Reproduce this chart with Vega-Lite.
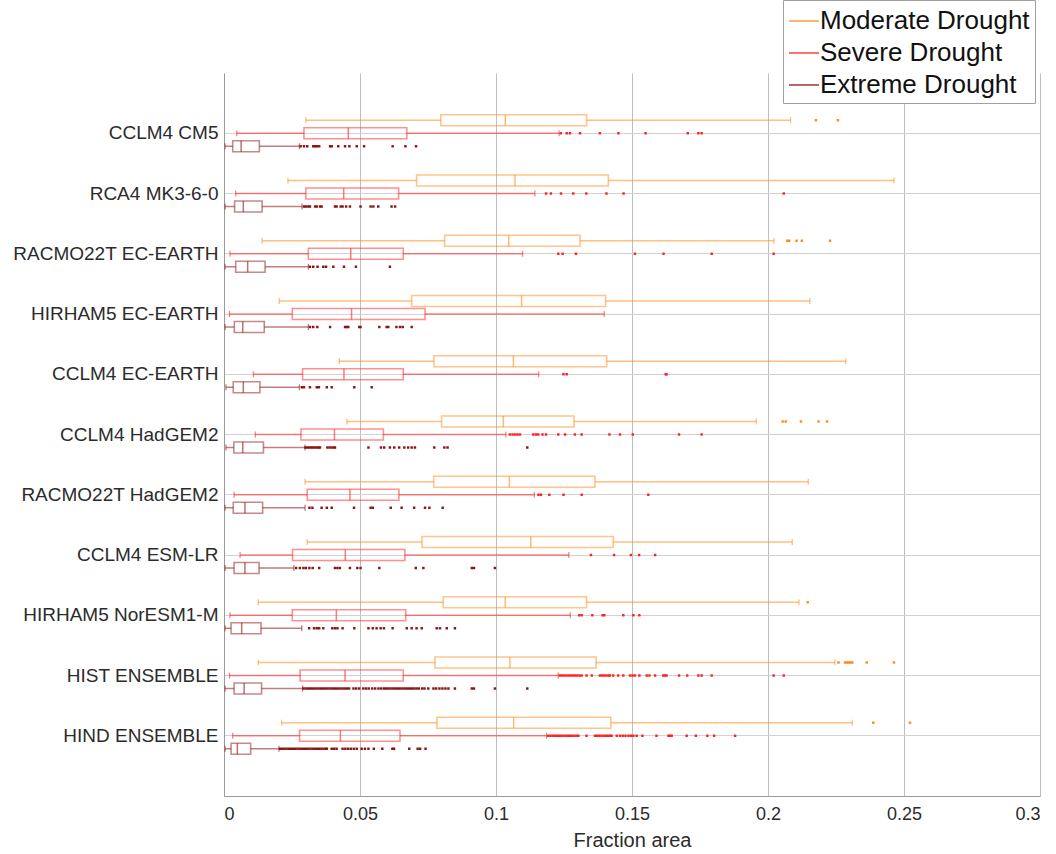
{
  "$schema": "https://vega.github.io/schema/vega-lite/v6.json",
  "autosize": "none",
  "width": 816,
  "height": 723,
  "padding": {"left": 224, "top": 73, "right": 16, "bottom": 58},
  "background": "white",
  "config": {
    "font": "Liberation Sans",
    "view": {"stroke": null},
    "legend": {
      "orient": "none",
      "legendX": 559,
      "legendY": -73,
      "title": null,
      "symbolType": "stroke",
      "symbolSize": 900,
      "symbolStrokeWidth": 1.5,
      "symbolOpacity": 0.85,
      "labelFontSize": 26,
      "labelLimit": 0,
      "labelColor": "#111111",
      "labelOffset": 0,
      "rowPadding": 3,
      "padding": 5,
      "strokeColor": "#A0A0A0",
      "fillColor": "white"
    }
  },
  "datasets": {
    "boxes": [
      {"model": "CCLM4 CM5", "drought": "Moderate Drought", "lo": 0.0301, "q1": 0.0797, "med": 0.1034, "q3": 0.1333, "hi": 0.2083},
      {"model": "CCLM4 CM5", "drought": "Severe Drought", "lo": 0.0047, "q1": 0.0294, "med": 0.0457, "q3": 0.0672, "hi": 0.1232},
      {"model": "CCLM4 CM5", "drought": "Extreme Drought", "lo": 0.0004, "q1": 0.0032, "med": 0.0063, "q3": 0.0130, "hi": 0.0277},
      {"model": "RCA4 MK3-6-0", "drought": "Moderate Drought", "lo": 0.0235, "q1": 0.0708, "med": 0.1070, "q3": 0.1413, "hi": 0.2463},
      {"model": "RCA4 MK3-6-0", "drought": "Severe Drought", "lo": 0.0043, "q1": 0.0301, "med": 0.0440, "q3": 0.0642, "hi": 0.1143},
      {"model": "RCA4 MK3-6-0", "drought": "Extreme Drought", "lo": 0.0004, "q1": 0.0039, "med": 0.0071, "q3": 0.0140, "hi": 0.0287},
      {"model": "RACMO22T EC-EARTH", "drought": "Moderate Drought", "lo": 0.0140, "q1": 0.0811, "med": 0.1047, "q3": 0.1309, "hi": 0.2022},
      {"model": "RACMO22T EC-EARTH", "drought": "Severe Drought", "lo": 0.0022, "q1": 0.0310, "med": 0.0466, "q3": 0.0659, "hi": 0.1098},
      {"model": "RACMO22T EC-EARTH", "drought": "Extreme Drought", "lo": 0.0004, "q1": 0.0043, "med": 0.0087, "q3": 0.0151, "hi": 0.0310},
      {"model": "HIRHAM5 EC-EARTH", "drought": "Moderate Drought", "lo": 0.0203, "q1": 0.0690, "med": 0.1094, "q3": 0.1403, "hi": 0.2154},
      {"model": "HIRHAM5 EC-EARTH", "drought": "Severe Drought", "lo": 0.0020, "q1": 0.0251, "med": 0.0469, "q3": 0.0739, "hi": 0.1398},
      {"model": "HIRHAM5 EC-EARTH", "drought": "Extreme Drought", "lo": 0.0004, "q1": 0.0038, "med": 0.0069, "q3": 0.0148, "hi": 0.0310},
      {"model": "CCLM4 EC-EARTH", "drought": "Moderate Drought", "lo": 0.0424, "q1": 0.0772, "med": 0.1064, "q3": 0.1407, "hi": 0.2286},
      {"model": "CCLM4 EC-EARTH", "drought": "Severe Drought", "lo": 0.0108, "q1": 0.0289, "med": 0.0441, "q3": 0.0659, "hi": 0.1157},
      {"model": "CCLM4 EC-EARTH", "drought": "Extreme Drought", "lo": 0.0007, "q1": 0.0034, "med": 0.0071, "q3": 0.0132, "hi": 0.0277},
      {"model": "CCLM4 HadGEM2", "drought": "Moderate Drought", "lo": 0.0452, "q1": 0.0800, "med": 0.1027, "q3": 0.1287, "hi": 0.1957},
      {"model": "CCLM4 HadGEM2", "drought": "Severe Drought", "lo": 0.0115, "q1": 0.0283, "med": 0.0406, "q3": 0.0586, "hi": 0.1036},
      {"model": "CCLM4 HadGEM2", "drought": "Extreme Drought", "lo": 0.0007, "q1": 0.0036, "med": 0.0069, "q3": 0.0145, "hi": 0.0298},
      {"model": "RACMO22T HadGEM2", "drought": "Moderate Drought", "lo": 0.0298, "q1": 0.0771, "med": 0.1049, "q3": 0.1364, "hi": 0.2148},
      {"model": "RACMO22T HadGEM2", "drought": "Severe Drought", "lo": 0.0037, "q1": 0.0306, "med": 0.0463, "q3": 0.0643, "hi": 0.1141},
      {"model": "RACMO22T HadGEM2", "drought": "Extreme Drought", "lo": 0.0004, "q1": 0.0034, "med": 0.0077, "q3": 0.0142, "hi": 0.0298},
      {"model": "CCLM4 ESM-LR", "drought": "Moderate Drought", "lo": 0.0306, "q1": 0.0728, "med": 0.1128, "q3": 0.1431, "hi": 0.2089},
      {"model": "CCLM4 ESM-LR", "drought": "Severe Drought", "lo": 0.0059, "q1": 0.0252, "med": 0.0446, "q3": 0.0665, "hi": 0.1268},
      {"model": "CCLM4 ESM-LR", "drought": "Extreme Drought", "lo": 0.0004, "q1": 0.0037, "med": 0.0077, "q3": 0.0129, "hi": 0.0257},
      {"model": "HIRHAM5 NorESM1-M", "drought": "Moderate Drought", "lo": 0.0126, "q1": 0.0806, "med": 0.1034, "q3": 0.1333, "hi": 0.2114},
      {"model": "HIRHAM5 NorESM1-M", "drought": "Severe Drought", "lo": 0.0022, "q1": 0.0251, "med": 0.0413, "q3": 0.0668, "hi": 0.1273},
      {"model": "HIRHAM5 NorESM1-M", "drought": "Extreme Drought", "lo": 0.0004, "q1": 0.0026, "med": 0.0065, "q3": 0.0136, "hi": 0.0286},
      {"model": "HIST ENSEMBLE", "drought": "Moderate Drought", "lo": 0.0126, "q1": 0.0776, "med": 0.1051, "q3": 0.1368, "hi": 0.2246},
      {"model": "HIST ENSEMBLE", "drought": "Severe Drought", "lo": 0.0020, "q1": 0.0280, "med": 0.0445, "q3": 0.0659, "hi": 0.1229},
      {"model": "HIST ENSEMBLE", "drought": "Extreme Drought", "lo": 0.0004, "q1": 0.0037, "med": 0.0074, "q3": 0.0138, "hi": 0.0289},
      {"model": "HIND ENSEMBLE", "drought": "Moderate Drought", "lo": 0.0212, "q1": 0.0783, "med": 0.1065, "q3": 0.1422, "hi": 0.2310},
      {"model": "HIND ENSEMBLE", "drought": "Severe Drought", "lo": 0.0032, "q1": 0.0278, "med": 0.0428, "q3": 0.0647, "hi": 0.1186},
      {"model": "HIND ENSEMBLE", "drought": "Extreme Drought", "lo": 0.0004, "q1": 0.0026, "med": 0.0049, "q3": 0.0098, "hi": 0.0202}
    ],
    "outliers": [
      {"model": "CCLM4 CM5", "drought": "Moderate Drought", "value": 0.2176},
      {"model": "CCLM4 CM5", "drought": "Moderate Drought", "value": 0.2257},
      {"model": "CCLM4 CM5", "drought": "Severe Drought", "value": 0.1238},
      {"model": "CCLM4 CM5", "drought": "Severe Drought", "value": 0.1260},
      {"model": "CCLM4 CM5", "drought": "Severe Drought", "value": 0.1272},
      {"model": "CCLM4 CM5", "drought": "Severe Drought", "value": 0.1309},
      {"model": "CCLM4 CM5", "drought": "Severe Drought", "value": 0.1382},
      {"model": "CCLM4 CM5", "drought": "Severe Drought", "value": 0.1450},
      {"model": "CCLM4 CM5", "drought": "Severe Drought", "value": 0.1550},
      {"model": "CCLM4 CM5", "drought": "Severe Drought", "value": 0.1705},
      {"model": "CCLM4 CM5", "drought": "Severe Drought", "value": 0.1744},
      {"model": "CCLM4 CM5", "drought": "Severe Drought", "value": 0.1756},
      {"model": "CCLM4 CM5", "drought": "Extreme Drought", "value": 0.0282},
      {"model": "CCLM4 CM5", "drought": "Extreme Drought", "value": 0.0294},
      {"model": "CCLM4 CM5", "drought": "Extreme Drought", "value": 0.0306},
      {"model": "CCLM4 CM5", "drought": "Extreme Drought", "value": 0.0328},
      {"model": "CCLM4 CM5", "drought": "Extreme Drought", "value": 0.0335},
      {"model": "CCLM4 CM5", "drought": "Extreme Drought", "value": 0.0341},
      {"model": "CCLM4 CM5", "drought": "Extreme Drought", "value": 0.0350},
      {"model": "CCLM4 CM5", "drought": "Extreme Drought", "value": 0.0390},
      {"model": "CCLM4 CM5", "drought": "Extreme Drought", "value": 0.0396},
      {"model": "CCLM4 CM5", "drought": "Extreme Drought", "value": 0.0420},
      {"model": "CCLM4 CM5", "drought": "Extreme Drought", "value": 0.0445},
      {"model": "CCLM4 CM5", "drought": "Extreme Drought", "value": 0.0461},
      {"model": "CCLM4 CM5", "drought": "Extreme Drought", "value": 0.0488},
      {"model": "CCLM4 CM5", "drought": "Extreme Drought", "value": 0.0515},
      {"model": "CCLM4 CM5", "drought": "Extreme Drought", "value": 0.0620},
      {"model": "CCLM4 CM5", "drought": "Extreme Drought", "value": 0.0667},
      {"model": "CCLM4 CM5", "drought": "Extreme Drought", "value": 0.0706},
      {"model": "RCA4 MK3-6-0", "drought": "Severe Drought", "value": 0.1184},
      {"model": "RCA4 MK3-6-0", "drought": "Severe Drought", "value": 0.1202},
      {"model": "RCA4 MK3-6-0", "drought": "Severe Drought", "value": 0.1239},
      {"model": "RCA4 MK3-6-0", "drought": "Severe Drought", "value": 0.1284},
      {"model": "RCA4 MK3-6-0", "drought": "Severe Drought", "value": 0.1332},
      {"model": "RCA4 MK3-6-0", "drought": "Severe Drought", "value": 0.1406},
      {"model": "RCA4 MK3-6-0", "drought": "Severe Drought", "value": 0.1469},
      {"model": "RCA4 MK3-6-0", "drought": "Severe Drought", "value": 0.2058},
      {"model": "RCA4 MK3-6-0", "drought": "Extreme Drought", "value": 0.0294},
      {"model": "RCA4 MK3-6-0", "drought": "Extreme Drought", "value": 0.0301},
      {"model": "RCA4 MK3-6-0", "drought": "Extreme Drought", "value": 0.0310},
      {"model": "RCA4 MK3-6-0", "drought": "Extreme Drought", "value": 0.0316},
      {"model": "RCA4 MK3-6-0", "drought": "Extreme Drought", "value": 0.0335},
      {"model": "RCA4 MK3-6-0", "drought": "Extreme Drought", "value": 0.0341},
      {"model": "RCA4 MK3-6-0", "drought": "Extreme Drought", "value": 0.0353},
      {"model": "RCA4 MK3-6-0", "drought": "Extreme Drought", "value": 0.0359},
      {"model": "RCA4 MK3-6-0", "drought": "Extreme Drought", "value": 0.0408},
      {"model": "RCA4 MK3-6-0", "drought": "Extreme Drought", "value": 0.0414},
      {"model": "RCA4 MK3-6-0", "drought": "Extreme Drought", "value": 0.0429},
      {"model": "RCA4 MK3-6-0", "drought": "Extreme Drought", "value": 0.0436},
      {"model": "RCA4 MK3-6-0", "drought": "Extreme Drought", "value": 0.0449},
      {"model": "RCA4 MK3-6-0", "drought": "Extreme Drought", "value": 0.0463},
      {"model": "RCA4 MK3-6-0", "drought": "Extreme Drought", "value": 0.0502},
      {"model": "RCA4 MK3-6-0", "drought": "Extreme Drought", "value": 0.0539},
      {"model": "RCA4 MK3-6-0", "drought": "Extreme Drought", "value": 0.0549},
      {"model": "RCA4 MK3-6-0", "drought": "Extreme Drought", "value": 0.0567},
      {"model": "RCA4 MK3-6-0", "drought": "Extreme Drought", "value": 0.0616},
      {"model": "RCA4 MK3-6-0", "drought": "Extreme Drought", "value": 0.0629},
      {"model": "RACMO22T EC-EARTH", "drought": "Moderate Drought", "value": 0.2071},
      {"model": "RACMO22T EC-EARTH", "drought": "Moderate Drought", "value": 0.2078},
      {"model": "RACMO22T EC-EARTH", "drought": "Moderate Drought", "value": 0.2105},
      {"model": "RACMO22T EC-EARTH", "drought": "Moderate Drought", "value": 0.2124},
      {"model": "RACMO22T EC-EARTH", "drought": "Moderate Drought", "value": 0.2228},
      {"model": "RACMO22T EC-EARTH", "drought": "Severe Drought", "value": 0.1229},
      {"model": "RACMO22T EC-EARTH", "drought": "Severe Drought", "value": 0.1245},
      {"model": "RACMO22T EC-EARTH", "drought": "Severe Drought", "value": 0.1294},
      {"model": "RACMO22T EC-EARTH", "drought": "Severe Drought", "value": 0.1511},
      {"model": "RACMO22T EC-EARTH", "drought": "Severe Drought", "value": 0.1616},
      {"model": "RACMO22T EC-EARTH", "drought": "Severe Drought", "value": 0.1793},
      {"model": "RACMO22T EC-EARTH", "drought": "Severe Drought", "value": 0.2021},
      {"model": "RACMO22T EC-EARTH", "drought": "Extreme Drought", "value": 0.0316},
      {"model": "RACMO22T EC-EARTH", "drought": "Extreme Drought", "value": 0.0328},
      {"model": "RACMO22T EC-EARTH", "drought": "Extreme Drought", "value": 0.0344},
      {"model": "RACMO22T EC-EARTH", "drought": "Extreme Drought", "value": 0.0365},
      {"model": "RACMO22T EC-EARTH", "drought": "Extreme Drought", "value": 0.0375},
      {"model": "RACMO22T EC-EARTH", "drought": "Extreme Drought", "value": 0.0402},
      {"model": "RACMO22T EC-EARTH", "drought": "Extreme Drought", "value": 0.0441},
      {"model": "RACMO22T EC-EARTH", "drought": "Extreme Drought", "value": 0.0485},
      {"model": "RACMO22T EC-EARTH", "drought": "Extreme Drought", "value": 0.0610},
      {"model": "HIRHAM5 EC-EARTH", "drought": "Extreme Drought", "value": 0.0316},
      {"model": "HIRHAM5 EC-EARTH", "drought": "Extreme Drought", "value": 0.0328},
      {"model": "HIRHAM5 EC-EARTH", "drought": "Extreme Drought", "value": 0.0343},
      {"model": "HIRHAM5 EC-EARTH", "drought": "Extreme Drought", "value": 0.0390},
      {"model": "HIRHAM5 EC-EARTH", "drought": "Extreme Drought", "value": 0.0445},
      {"model": "HIRHAM5 EC-EARTH", "drought": "Extreme Drought", "value": 0.0451},
      {"model": "HIRHAM5 EC-EARTH", "drought": "Extreme Drought", "value": 0.0457},
      {"model": "HIRHAM5 EC-EARTH", "drought": "Extreme Drought", "value": 0.0497},
      {"model": "HIRHAM5 EC-EARTH", "drought": "Extreme Drought", "value": 0.0502},
      {"model": "HIRHAM5 EC-EARTH", "drought": "Extreme Drought", "value": 0.0571},
      {"model": "HIRHAM5 EC-EARTH", "drought": "Extreme Drought", "value": 0.0598},
      {"model": "HIRHAM5 EC-EARTH", "drought": "Extreme Drought", "value": 0.0604},
      {"model": "HIRHAM5 EC-EARTH", "drought": "Extreme Drought", "value": 0.0634},
      {"model": "HIRHAM5 EC-EARTH", "drought": "Extreme Drought", "value": 0.0647},
      {"model": "HIRHAM5 EC-EARTH", "drought": "Extreme Drought", "value": 0.0657},
      {"model": "HIRHAM5 EC-EARTH", "drought": "Extreme Drought", "value": 0.0690},
      {"model": "CCLM4 EC-EARTH", "drought": "Severe Drought", "value": 0.1248},
      {"model": "CCLM4 EC-EARTH", "drought": "Severe Drought", "value": 0.1260},
      {"model": "CCLM4 EC-EARTH", "drought": "Severe Drought", "value": 0.1624},
      {"model": "CCLM4 EC-EARTH", "drought": "Severe Drought", "value": 0.1627},
      {"model": "CCLM4 EC-EARTH", "drought": "Extreme Drought", "value": 0.0286},
      {"model": "CCLM4 EC-EARTH", "drought": "Extreme Drought", "value": 0.0294},
      {"model": "CCLM4 EC-EARTH", "drought": "Extreme Drought", "value": 0.0316},
      {"model": "CCLM4 EC-EARTH", "drought": "Extreme Drought", "value": 0.0341},
      {"model": "CCLM4 EC-EARTH", "drought": "Extreme Drought", "value": 0.0349},
      {"model": "CCLM4 EC-EARTH", "drought": "Extreme Drought", "value": 0.0378},
      {"model": "CCLM4 EC-EARTH", "drought": "Extreme Drought", "value": 0.0396},
      {"model": "CCLM4 EC-EARTH", "drought": "Extreme Drought", "value": 0.0479},
      {"model": "CCLM4 EC-EARTH", "drought": "Extreme Drought", "value": 0.0543},
      {"model": "CCLM4 HadGEM2", "drought": "Moderate Drought", "value": 0.2054},
      {"model": "CCLM4 HadGEM2", "drought": "Moderate Drought", "value": 0.2065},
      {"model": "CCLM4 HadGEM2", "drought": "Moderate Drought", "value": 0.2121},
      {"model": "CCLM4 HadGEM2", "drought": "Moderate Drought", "value": 0.2186},
      {"model": "CCLM4 HadGEM2", "drought": "Moderate Drought", "value": 0.2217},
      {"model": "CCLM4 HadGEM2", "drought": "Severe Drought", "value": 0.1051},
      {"model": "CCLM4 HadGEM2", "drought": "Severe Drought", "value": 0.1061},
      {"model": "CCLM4 HadGEM2", "drought": "Severe Drought", "value": 0.1070},
      {"model": "CCLM4 HadGEM2", "drought": "Severe Drought", "value": 0.1079},
      {"model": "CCLM4 HadGEM2", "drought": "Severe Drought", "value": 0.1088},
      {"model": "CCLM4 HadGEM2", "drought": "Severe Drought", "value": 0.1137},
      {"model": "CCLM4 HadGEM2", "drought": "Severe Drought", "value": 0.1147},
      {"model": "CCLM4 HadGEM2", "drought": "Severe Drought", "value": 0.1155},
      {"model": "CCLM4 HadGEM2", "drought": "Severe Drought", "value": 0.1171},
      {"model": "CCLM4 HadGEM2", "drought": "Severe Drought", "value": 0.1184},
      {"model": "CCLM4 HadGEM2", "drought": "Severe Drought", "value": 0.1229},
      {"model": "CCLM4 HadGEM2", "drought": "Severe Drought", "value": 0.1254},
      {"model": "CCLM4 HadGEM2", "drought": "Severe Drought", "value": 0.1290},
      {"model": "CCLM4 HadGEM2", "drought": "Severe Drought", "value": 0.1315},
      {"model": "CCLM4 HadGEM2", "drought": "Severe Drought", "value": 0.1417},
      {"model": "CCLM4 HadGEM2", "drought": "Severe Drought", "value": 0.1456},
      {"model": "CCLM4 HadGEM2", "drought": "Severe Drought", "value": 0.1503},
      {"model": "CCLM4 HadGEM2", "drought": "Severe Drought", "value": 0.1673},
      {"model": "CCLM4 HadGEM2", "drought": "Severe Drought", "value": 0.1756},
      {"model": "CCLM4 HadGEM2", "drought": "Extreme Drought", "value": 0.0299},
      {"model": "CCLM4 HadGEM2", "drought": "Extreme Drought", "value": 0.0306},
      {"model": "CCLM4 HadGEM2", "drought": "Extreme Drought", "value": 0.0313},
      {"model": "CCLM4 HadGEM2", "drought": "Extreme Drought", "value": 0.0320},
      {"model": "CCLM4 HadGEM2", "drought": "Extreme Drought", "value": 0.0327},
      {"model": "CCLM4 HadGEM2", "drought": "Extreme Drought", "value": 0.0334},
      {"model": "CCLM4 HadGEM2", "drought": "Extreme Drought", "value": 0.0341},
      {"model": "CCLM4 HadGEM2", "drought": "Extreme Drought", "value": 0.0348},
      {"model": "CCLM4 HadGEM2", "drought": "Extreme Drought", "value": 0.0353},
      {"model": "CCLM4 HadGEM2", "drought": "Extreme Drought", "value": 0.0380},
      {"model": "CCLM4 HadGEM2", "drought": "Extreme Drought", "value": 0.0388},
      {"model": "CCLM4 HadGEM2", "drought": "Extreme Drought", "value": 0.0396},
      {"model": "CCLM4 HadGEM2", "drought": "Extreme Drought", "value": 0.0404},
      {"model": "CCLM4 HadGEM2", "drought": "Extreme Drought", "value": 0.0408},
      {"model": "CCLM4 HadGEM2", "drought": "Extreme Drought", "value": 0.0531},
      {"model": "CCLM4 HadGEM2", "drought": "Extreme Drought", "value": 0.0577},
      {"model": "CCLM4 HadGEM2", "drought": "Extreme Drought", "value": 0.0589},
      {"model": "CCLM4 HadGEM2", "drought": "Extreme Drought", "value": 0.0610},
      {"model": "CCLM4 HadGEM2", "drought": "Extreme Drought", "value": 0.0626},
      {"model": "CCLM4 HadGEM2", "drought": "Extreme Drought", "value": 0.0644},
      {"model": "CCLM4 HadGEM2", "drought": "Extreme Drought", "value": 0.0663},
      {"model": "CCLM4 HadGEM2", "drought": "Extreme Drought", "value": 0.0677},
      {"model": "CCLM4 HadGEM2", "drought": "Extreme Drought", "value": 0.0690},
      {"model": "CCLM4 HadGEM2", "drought": "Extreme Drought", "value": 0.0702},
      {"model": "CCLM4 HadGEM2", "drought": "Extreme Drought", "value": 0.0773},
      {"model": "CCLM4 HadGEM2", "drought": "Extreme Drought", "value": 0.0810},
      {"model": "CCLM4 HadGEM2", "drought": "Extreme Drought", "value": 0.0822},
      {"model": "CCLM4 HadGEM2", "drought": "Extreme Drought", "value": 0.1115},
      {"model": "RACMO22T HadGEM2", "drought": "Severe Drought", "value": 0.1156},
      {"model": "RACMO22T HadGEM2", "drought": "Severe Drought", "value": 0.1165},
      {"model": "RACMO22T HadGEM2", "drought": "Severe Drought", "value": 0.1196},
      {"model": "RACMO22T HadGEM2", "drought": "Severe Drought", "value": 0.1248},
      {"model": "RACMO22T HadGEM2", "drought": "Severe Drought", "value": 0.1315},
      {"model": "RACMO22T HadGEM2", "drought": "Severe Drought", "value": 0.1560},
      {"model": "RACMO22T HadGEM2", "drought": "Extreme Drought", "value": 0.0314},
      {"model": "RACMO22T HadGEM2", "drought": "Extreme Drought", "value": 0.0325},
      {"model": "RACMO22T HadGEM2", "drought": "Extreme Drought", "value": 0.0359},
      {"model": "RACMO22T HadGEM2", "drought": "Extreme Drought", "value": 0.0378},
      {"model": "RACMO22T HadGEM2", "drought": "Extreme Drought", "value": 0.0396},
      {"model": "RACMO22T HadGEM2", "drought": "Extreme Drought", "value": 0.0478},
      {"model": "RACMO22T HadGEM2", "drought": "Extreme Drought", "value": 0.0539},
      {"model": "RACMO22T HadGEM2", "drought": "Extreme Drought", "value": 0.0547},
      {"model": "RACMO22T HadGEM2", "drought": "Extreme Drought", "value": 0.0613},
      {"model": "RACMO22T HadGEM2", "drought": "Extreme Drought", "value": 0.0653},
      {"model": "RACMO22T HadGEM2", "drought": "Extreme Drought", "value": 0.0699},
      {"model": "RACMO22T HadGEM2", "drought": "Extreme Drought", "value": 0.0739},
      {"model": "RACMO22T HadGEM2", "drought": "Extreme Drought", "value": 0.0755},
      {"model": "RACMO22T HadGEM2", "drought": "Extreme Drought", "value": 0.0804},
      {"model": "CCLM4 ESM-LR", "drought": "Severe Drought", "value": 0.1349},
      {"model": "CCLM4 ESM-LR", "drought": "Severe Drought", "value": 0.1434},
      {"model": "CCLM4 ESM-LR", "drought": "Severe Drought", "value": 0.1496},
      {"model": "CCLM4 ESM-LR", "drought": "Severe Drought", "value": 0.1526},
      {"model": "CCLM4 ESM-LR", "drought": "Severe Drought", "value": 0.1585},
      {"model": "CCLM4 ESM-LR", "drought": "Extreme Drought", "value": 0.0265},
      {"model": "CCLM4 ESM-LR", "drought": "Extreme Drought", "value": 0.0279},
      {"model": "CCLM4 ESM-LR", "drought": "Extreme Drought", "value": 0.0292},
      {"model": "CCLM4 ESM-LR", "drought": "Extreme Drought", "value": 0.0301},
      {"model": "CCLM4 ESM-LR", "drought": "Extreme Drought", "value": 0.0314},
      {"model": "CCLM4 ESM-LR", "drought": "Extreme Drought", "value": 0.0326},
      {"model": "CCLM4 ESM-LR", "drought": "Extreme Drought", "value": 0.0350},
      {"model": "CCLM4 ESM-LR", "drought": "Extreme Drought", "value": 0.0408},
      {"model": "CCLM4 ESM-LR", "drought": "Extreme Drought", "value": 0.0417},
      {"model": "CCLM4 ESM-LR", "drought": "Extreme Drought", "value": 0.0426},
      {"model": "CCLM4 ESM-LR", "drought": "Extreme Drought", "value": 0.0463},
      {"model": "CCLM4 ESM-LR", "drought": "Extreme Drought", "value": 0.0490},
      {"model": "CCLM4 ESM-LR", "drought": "Extreme Drought", "value": 0.0502},
      {"model": "CCLM4 ESM-LR", "drought": "Extreme Drought", "value": 0.0571},
      {"model": "CCLM4 ESM-LR", "drought": "Extreme Drought", "value": 0.0705},
      {"model": "CCLM4 ESM-LR", "drought": "Extreme Drought", "value": 0.0733},
      {"model": "CCLM4 ESM-LR", "drought": "Extreme Drought", "value": 0.0911},
      {"model": "CCLM4 ESM-LR", "drought": "Extreme Drought", "value": 0.0919},
      {"model": "CCLM4 ESM-LR", "drought": "Extreme Drought", "value": 0.0996},
      {"model": "HIRHAM5 NorESM1-M", "drought": "Moderate Drought", "value": 0.2146},
      {"model": "HIRHAM5 NorESM1-M", "drought": "Severe Drought", "value": 0.1306},
      {"model": "HIRHAM5 NorESM1-M", "drought": "Severe Drought", "value": 0.1315},
      {"model": "HIRHAM5 NorESM1-M", "drought": "Severe Drought", "value": 0.1354},
      {"model": "HIRHAM5 NorESM1-M", "drought": "Severe Drought", "value": 0.1392},
      {"model": "HIRHAM5 NorESM1-M", "drought": "Severe Drought", "value": 0.1398},
      {"model": "HIRHAM5 NorESM1-M", "drought": "Severe Drought", "value": 0.1468},
      {"model": "HIRHAM5 NorESM1-M", "drought": "Severe Drought", "value": 0.1505},
      {"model": "HIRHAM5 NorESM1-M", "drought": "Severe Drought", "value": 0.1527},
      {"model": "HIRHAM5 NorESM1-M", "drought": "Extreme Drought", "value": 0.0313},
      {"model": "HIRHAM5 NorESM1-M", "drought": "Extreme Drought", "value": 0.0331},
      {"model": "HIRHAM5 NorESM1-M", "drought": "Extreme Drought", "value": 0.0341},
      {"model": "HIRHAM5 NorESM1-M", "drought": "Extreme Drought", "value": 0.0350},
      {"model": "HIRHAM5 NorESM1-M", "drought": "Extreme Drought", "value": 0.0365},
      {"model": "HIRHAM5 NorESM1-M", "drought": "Extreme Drought", "value": 0.0398},
      {"model": "HIRHAM5 NorESM1-M", "drought": "Extreme Drought", "value": 0.0408},
      {"model": "HIRHAM5 NorESM1-M", "drought": "Extreme Drought", "value": 0.0417},
      {"model": "HIRHAM5 NorESM1-M", "drought": "Extreme Drought", "value": 0.0436},
      {"model": "HIRHAM5 NorESM1-M", "drought": "Extreme Drought", "value": 0.0479},
      {"model": "HIRHAM5 NorESM1-M", "drought": "Extreme Drought", "value": 0.0531},
      {"model": "HIRHAM5 NorESM1-M", "drought": "Extreme Drought", "value": 0.0547},
      {"model": "HIRHAM5 NorESM1-M", "drought": "Extreme Drought", "value": 0.0561},
      {"model": "HIRHAM5 NorESM1-M", "drought": "Extreme Drought", "value": 0.0576},
      {"model": "HIRHAM5 NorESM1-M", "drought": "Extreme Drought", "value": 0.0588},
      {"model": "HIRHAM5 NorESM1-M", "drought": "Extreme Drought", "value": 0.0620},
      {"model": "HIRHAM5 NorESM1-M", "drought": "Extreme Drought", "value": 0.0672},
      {"model": "HIRHAM5 NorESM1-M", "drought": "Extreme Drought", "value": 0.0690},
      {"model": "HIRHAM5 NorESM1-M", "drought": "Extreme Drought", "value": 0.0708},
      {"model": "HIRHAM5 NorESM1-M", "drought": "Extreme Drought", "value": 0.0727},
      {"model": "HIRHAM5 NorESM1-M", "drought": "Extreme Drought", "value": 0.0782},
      {"model": "HIRHAM5 NorESM1-M", "drought": "Extreme Drought", "value": 0.0794},
      {"model": "HIRHAM5 NorESM1-M", "drought": "Extreme Drought", "value": 0.0819},
      {"model": "HIRHAM5 NorESM1-M", "drought": "Extreme Drought", "value": 0.0849},
      {"model": "HIST ENSEMBLE", "drought": "Moderate Drought", "value": 0.2259},
      {"model": "HIST ENSEMBLE", "drought": "Moderate Drought", "value": 0.2283},
      {"model": "HIST ENSEMBLE", "drought": "Moderate Drought", "value": 0.2290},
      {"model": "HIST ENSEMBLE", "drought": "Moderate Drought", "value": 0.2297},
      {"model": "HIST ENSEMBLE", "drought": "Moderate Drought", "value": 0.2304},
      {"model": "HIST ENSEMBLE", "drought": "Moderate Drought", "value": 0.2310},
      {"model": "HIST ENSEMBLE", "drought": "Moderate Drought", "value": 0.2363},
      {"model": "HIST ENSEMBLE", "drought": "Moderate Drought", "value": 0.2463},
      {"model": "HIST ENSEMBLE", "drought": "Severe Drought", "value": 0.1235},
      {"model": "HIST ENSEMBLE", "drought": "Severe Drought", "value": 0.1243},
      {"model": "HIST ENSEMBLE", "drought": "Severe Drought", "value": 0.1251},
      {"model": "HIST ENSEMBLE", "drought": "Severe Drought", "value": 0.1259},
      {"model": "HIST ENSEMBLE", "drought": "Severe Drought", "value": 0.1267},
      {"model": "HIST ENSEMBLE", "drought": "Severe Drought", "value": 0.1275},
      {"model": "HIST ENSEMBLE", "drought": "Severe Drought", "value": 0.1283},
      {"model": "HIST ENSEMBLE", "drought": "Severe Drought", "value": 0.1291},
      {"model": "HIST ENSEMBLE", "drought": "Severe Drought", "value": 0.1299},
      {"model": "HIST ENSEMBLE", "drought": "Severe Drought", "value": 0.1307},
      {"model": "HIST ENSEMBLE", "drought": "Severe Drought", "value": 0.1315},
      {"model": "HIST ENSEMBLE", "drought": "Severe Drought", "value": 0.1333},
      {"model": "HIST ENSEMBLE", "drought": "Severe Drought", "value": 0.1352},
      {"model": "HIST ENSEMBLE", "drought": "Severe Drought", "value": 0.1382},
      {"model": "HIST ENSEMBLE", "drought": "Severe Drought", "value": 0.1390},
      {"model": "HIST ENSEMBLE", "drought": "Severe Drought", "value": 0.1398},
      {"model": "HIST ENSEMBLE", "drought": "Severe Drought", "value": 0.1406},
      {"model": "HIST ENSEMBLE", "drought": "Severe Drought", "value": 0.1414},
      {"model": "HIST ENSEMBLE", "drought": "Severe Drought", "value": 0.1419},
      {"model": "HIST ENSEMBLE", "drought": "Severe Drought", "value": 0.1431},
      {"model": "HIST ENSEMBLE", "drought": "Severe Drought", "value": 0.1449},
      {"model": "HIST ENSEMBLE", "drought": "Severe Drought", "value": 0.1468},
      {"model": "HIST ENSEMBLE", "drought": "Severe Drought", "value": 0.1493},
      {"model": "HIST ENSEMBLE", "drought": "Severe Drought", "value": 0.1502},
      {"model": "HIST ENSEMBLE", "drought": "Severe Drought", "value": 0.1511},
      {"model": "HIST ENSEMBLE", "drought": "Severe Drought", "value": 0.1527},
      {"model": "HIST ENSEMBLE", "drought": "Severe Drought", "value": 0.1554},
      {"model": "HIST ENSEMBLE", "drought": "Severe Drought", "value": 0.1564},
      {"model": "HIST ENSEMBLE", "drought": "Severe Drought", "value": 0.1585},
      {"model": "HIST ENSEMBLE", "drought": "Severe Drought", "value": 0.1615},
      {"model": "HIST ENSEMBLE", "drought": "Severe Drought", "value": 0.1621},
      {"model": "HIST ENSEMBLE", "drought": "Severe Drought", "value": 0.1627},
      {"model": "HIST ENSEMBLE", "drought": "Severe Drought", "value": 0.1673},
      {"model": "HIST ENSEMBLE", "drought": "Severe Drought", "value": 0.1703},
      {"model": "HIST ENSEMBLE", "drought": "Severe Drought", "value": 0.1744},
      {"model": "HIST ENSEMBLE", "drought": "Severe Drought", "value": 0.1756},
      {"model": "HIST ENSEMBLE", "drought": "Severe Drought", "value": 0.1793},
      {"model": "HIST ENSEMBLE", "drought": "Severe Drought", "value": 0.2021},
      {"model": "HIST ENSEMBLE", "drought": "Severe Drought", "value": 0.2058},
      {"model": "HIST ENSEMBLE", "drought": "Extreme Drought", "value": 0.0292},
      {"model": "HIST ENSEMBLE", "drought": "Extreme Drought", "value": 0.0300},
      {"model": "HIST ENSEMBLE", "drought": "Extreme Drought", "value": 0.0308},
      {"model": "HIST ENSEMBLE", "drought": "Extreme Drought", "value": 0.0316},
      {"model": "HIST ENSEMBLE", "drought": "Extreme Drought", "value": 0.0324},
      {"model": "HIST ENSEMBLE", "drought": "Extreme Drought", "value": 0.0332},
      {"model": "HIST ENSEMBLE", "drought": "Extreme Drought", "value": 0.0340},
      {"model": "HIST ENSEMBLE", "drought": "Extreme Drought", "value": 0.0348},
      {"model": "HIST ENSEMBLE", "drought": "Extreme Drought", "value": 0.0356},
      {"model": "HIST ENSEMBLE", "drought": "Extreme Drought", "value": 0.0364},
      {"model": "HIST ENSEMBLE", "drought": "Extreme Drought", "value": 0.0372},
      {"model": "HIST ENSEMBLE", "drought": "Extreme Drought", "value": 0.0380},
      {"model": "HIST ENSEMBLE", "drought": "Extreme Drought", "value": 0.0388},
      {"model": "HIST ENSEMBLE", "drought": "Extreme Drought", "value": 0.0396},
      {"model": "HIST ENSEMBLE", "drought": "Extreme Drought", "value": 0.0404},
      {"model": "HIST ENSEMBLE", "drought": "Extreme Drought", "value": 0.0412},
      {"model": "HIST ENSEMBLE", "drought": "Extreme Drought", "value": 0.0420},
      {"model": "HIST ENSEMBLE", "drought": "Extreme Drought", "value": 0.0428},
      {"model": "HIST ENSEMBLE", "drought": "Extreme Drought", "value": 0.0436},
      {"model": "HIST ENSEMBLE", "drought": "Extreme Drought", "value": 0.0444},
      {"model": "HIST ENSEMBLE", "drought": "Extreme Drought", "value": 0.0452},
      {"model": "HIST ENSEMBLE", "drought": "Extreme Drought", "value": 0.0460},
      {"model": "HIST ENSEMBLE", "drought": "Extreme Drought", "value": 0.0476},
      {"model": "HIST ENSEMBLE", "drought": "Extreme Drought", "value": 0.0486},
      {"model": "HIST ENSEMBLE", "drought": "Extreme Drought", "value": 0.0497},
      {"model": "HIST ENSEMBLE", "drought": "Extreme Drought", "value": 0.0512},
      {"model": "HIST ENSEMBLE", "drought": "Extreme Drought", "value": 0.0522},
      {"model": "HIST ENSEMBLE", "drought": "Extreme Drought", "value": 0.0532},
      {"model": "HIST ENSEMBLE", "drought": "Extreme Drought", "value": 0.0545},
      {"model": "HIST ENSEMBLE", "drought": "Extreme Drought", "value": 0.0556},
      {"model": "HIST ENSEMBLE", "drought": "Extreme Drought", "value": 0.0568},
      {"model": "HIST ENSEMBLE", "drought": "Extreme Drought", "value": 0.0578},
      {"model": "HIST ENSEMBLE", "drought": "Extreme Drought", "value": 0.0588},
      {"model": "HIST ENSEMBLE", "drought": "Extreme Drought", "value": 0.0596},
      {"model": "HIST ENSEMBLE", "drought": "Extreme Drought", "value": 0.0604},
      {"model": "HIST ENSEMBLE", "drought": "Extreme Drought", "value": 0.0612},
      {"model": "HIST ENSEMBLE", "drought": "Extreme Drought", "value": 0.0620},
      {"model": "HIST ENSEMBLE", "drought": "Extreme Drought", "value": 0.0628},
      {"model": "HIST ENSEMBLE", "drought": "Extreme Drought", "value": 0.0636},
      {"model": "HIST ENSEMBLE", "drought": "Extreme Drought", "value": 0.0644},
      {"model": "HIST ENSEMBLE", "drought": "Extreme Drought", "value": 0.0652},
      {"model": "HIST ENSEMBLE", "drought": "Extreme Drought", "value": 0.0660},
      {"model": "HIST ENSEMBLE", "drought": "Extreme Drought", "value": 0.0668},
      {"model": "HIST ENSEMBLE", "drought": "Extreme Drought", "value": 0.0676},
      {"model": "HIST ENSEMBLE", "drought": "Extreme Drought", "value": 0.0684},
      {"model": "HIST ENSEMBLE", "drought": "Extreme Drought", "value": 0.0692},
      {"model": "HIST ENSEMBLE", "drought": "Extreme Drought", "value": 0.0700},
      {"model": "HIST ENSEMBLE", "drought": "Extreme Drought", "value": 0.0708},
      {"model": "HIST ENSEMBLE", "drought": "Extreme Drought", "value": 0.0716},
      {"model": "HIST ENSEMBLE", "drought": "Extreme Drought", "value": 0.0728},
      {"model": "HIST ENSEMBLE", "drought": "Extreme Drought", "value": 0.0737},
      {"model": "HIST ENSEMBLE", "drought": "Extreme Drought", "value": 0.0751},
      {"model": "HIST ENSEMBLE", "drought": "Extreme Drought", "value": 0.0770},
      {"model": "HIST ENSEMBLE", "drought": "Extreme Drought", "value": 0.0780},
      {"model": "HIST ENSEMBLE", "drought": "Extreme Drought", "value": 0.0792},
      {"model": "HIST ENSEMBLE", "drought": "Extreme Drought", "value": 0.0803},
      {"model": "HIST ENSEMBLE", "drought": "Extreme Drought", "value": 0.0814},
      {"model": "HIST ENSEMBLE", "drought": "Extreme Drought", "value": 0.0825},
      {"model": "HIST ENSEMBLE", "drought": "Extreme Drought", "value": 0.0849},
      {"model": "HIST ENSEMBLE", "drought": "Extreme Drought", "value": 0.0911},
      {"model": "HIST ENSEMBLE", "drought": "Extreme Drought", "value": 0.0919},
      {"model": "HIST ENSEMBLE", "drought": "Extreme Drought", "value": 0.0996},
      {"model": "HIST ENSEMBLE", "drought": "Extreme Drought", "value": 0.1115},
      {"model": "HIND ENSEMBLE", "drought": "Moderate Drought", "value": 0.2387},
      {"model": "HIND ENSEMBLE", "drought": "Moderate Drought", "value": 0.2522},
      {"model": "HIND ENSEMBLE", "drought": "Severe Drought", "value": 0.1192},
      {"model": "HIND ENSEMBLE", "drought": "Severe Drought", "value": 0.1200},
      {"model": "HIND ENSEMBLE", "drought": "Severe Drought", "value": 0.1208},
      {"model": "HIND ENSEMBLE", "drought": "Severe Drought", "value": 0.1216},
      {"model": "HIND ENSEMBLE", "drought": "Severe Drought", "value": 0.1224},
      {"model": "HIND ENSEMBLE", "drought": "Severe Drought", "value": 0.1232},
      {"model": "HIND ENSEMBLE", "drought": "Severe Drought", "value": 0.1240},
      {"model": "HIND ENSEMBLE", "drought": "Severe Drought", "value": 0.1248},
      {"model": "HIND ENSEMBLE", "drought": "Severe Drought", "value": 0.1256},
      {"model": "HIND ENSEMBLE", "drought": "Severe Drought", "value": 0.1264},
      {"model": "HIND ENSEMBLE", "drought": "Severe Drought", "value": 0.1272},
      {"model": "HIND ENSEMBLE", "drought": "Severe Drought", "value": 0.1280},
      {"model": "HIND ENSEMBLE", "drought": "Severe Drought", "value": 0.1288},
      {"model": "HIND ENSEMBLE", "drought": "Severe Drought", "value": 0.1296},
      {"model": "HIND ENSEMBLE", "drought": "Severe Drought", "value": 0.1303},
      {"model": "HIND ENSEMBLE", "drought": "Severe Drought", "value": 0.1333},
      {"model": "HIND ENSEMBLE", "drought": "Severe Drought", "value": 0.1364},
      {"model": "HIND ENSEMBLE", "drought": "Severe Drought", "value": 0.1372},
      {"model": "HIND ENSEMBLE", "drought": "Severe Drought", "value": 0.1380},
      {"model": "HIND ENSEMBLE", "drought": "Severe Drought", "value": 0.1388},
      {"model": "HIND ENSEMBLE", "drought": "Severe Drought", "value": 0.1396},
      {"model": "HIND ENSEMBLE", "drought": "Severe Drought", "value": 0.1404},
      {"model": "HIND ENSEMBLE", "drought": "Severe Drought", "value": 0.1412},
      {"model": "HIND ENSEMBLE", "drought": "Severe Drought", "value": 0.1420},
      {"model": "HIND ENSEMBLE", "drought": "Severe Drought", "value": 0.1425},
      {"model": "HIND ENSEMBLE", "drought": "Severe Drought", "value": 0.1444},
      {"model": "HIND ENSEMBLE", "drought": "Severe Drought", "value": 0.1456},
      {"model": "HIND ENSEMBLE", "drought": "Severe Drought", "value": 0.1466},
      {"model": "HIND ENSEMBLE", "drought": "Severe Drought", "value": 0.1476},
      {"model": "HIND ENSEMBLE", "drought": "Severe Drought", "value": 0.1487},
      {"model": "HIND ENSEMBLE", "drought": "Severe Drought", "value": 0.1496},
      {"model": "HIND ENSEMBLE", "drought": "Severe Drought", "value": 0.1505},
      {"model": "HIND ENSEMBLE", "drought": "Severe Drought", "value": 0.1517},
      {"model": "HIND ENSEMBLE", "drought": "Severe Drought", "value": 0.1538},
      {"model": "HIND ENSEMBLE", "drought": "Severe Drought", "value": 0.1590},
      {"model": "HIND ENSEMBLE", "drought": "Severe Drought", "value": 0.1634},
      {"model": "HIND ENSEMBLE", "drought": "Severe Drought", "value": 0.1640},
      {"model": "HIND ENSEMBLE", "drought": "Severe Drought", "value": 0.1646},
      {"model": "HIND ENSEMBLE", "drought": "Severe Drought", "value": 0.1701},
      {"model": "HIND ENSEMBLE", "drought": "Severe Drought", "value": 0.1735},
      {"model": "HIND ENSEMBLE", "drought": "Severe Drought", "value": 0.1777},
      {"model": "HIND ENSEMBLE", "drought": "Severe Drought", "value": 0.1802},
      {"model": "HIND ENSEMBLE", "drought": "Severe Drought", "value": 0.1879},
      {"model": "HIND ENSEMBLE", "drought": "Extreme Drought", "value": 0.0206},
      {"model": "HIND ENSEMBLE", "drought": "Extreme Drought", "value": 0.0214},
      {"model": "HIND ENSEMBLE", "drought": "Extreme Drought", "value": 0.0222},
      {"model": "HIND ENSEMBLE", "drought": "Extreme Drought", "value": 0.0230},
      {"model": "HIND ENSEMBLE", "drought": "Extreme Drought", "value": 0.0238},
      {"model": "HIND ENSEMBLE", "drought": "Extreme Drought", "value": 0.0246},
      {"model": "HIND ENSEMBLE", "drought": "Extreme Drought", "value": 0.0254},
      {"model": "HIND ENSEMBLE", "drought": "Extreme Drought", "value": 0.0262},
      {"model": "HIND ENSEMBLE", "drought": "Extreme Drought", "value": 0.0270},
      {"model": "HIND ENSEMBLE", "drought": "Extreme Drought", "value": 0.0278},
      {"model": "HIND ENSEMBLE", "drought": "Extreme Drought", "value": 0.0286},
      {"model": "HIND ENSEMBLE", "drought": "Extreme Drought", "value": 0.0294},
      {"model": "HIND ENSEMBLE", "drought": "Extreme Drought", "value": 0.0302},
      {"model": "HIND ENSEMBLE", "drought": "Extreme Drought", "value": 0.0310},
      {"model": "HIND ENSEMBLE", "drought": "Extreme Drought", "value": 0.0318},
      {"model": "HIND ENSEMBLE", "drought": "Extreme Drought", "value": 0.0326},
      {"model": "HIND ENSEMBLE", "drought": "Extreme Drought", "value": 0.0334},
      {"model": "HIND ENSEMBLE", "drought": "Extreme Drought", "value": 0.0342},
      {"model": "HIND ENSEMBLE", "drought": "Extreme Drought", "value": 0.0350},
      {"model": "HIND ENSEMBLE", "drought": "Extreme Drought", "value": 0.0358},
      {"model": "HIND ENSEMBLE", "drought": "Extreme Drought", "value": 0.0366},
      {"model": "HIND ENSEMBLE", "drought": "Extreme Drought", "value": 0.0374},
      {"model": "HIND ENSEMBLE", "drought": "Extreme Drought", "value": 0.0378},
      {"model": "HIND ENSEMBLE", "drought": "Extreme Drought", "value": 0.0396},
      {"model": "HIND ENSEMBLE", "drought": "Extreme Drought", "value": 0.0405},
      {"model": "HIND ENSEMBLE", "drought": "Extreme Drought", "value": 0.0414},
      {"model": "HIND ENSEMBLE", "drought": "Extreme Drought", "value": 0.0436},
      {"model": "HIND ENSEMBLE", "drought": "Extreme Drought", "value": 0.0446},
      {"model": "HIND ENSEMBLE", "drought": "Extreme Drought", "value": 0.0456},
      {"model": "HIND ENSEMBLE", "drought": "Extreme Drought", "value": 0.0466},
      {"model": "HIND ENSEMBLE", "drought": "Extreme Drought", "value": 0.0477},
      {"model": "HIND ENSEMBLE", "drought": "Extreme Drought", "value": 0.0488},
      {"model": "HIND ENSEMBLE", "drought": "Extreme Drought", "value": 0.0506},
      {"model": "HIND ENSEMBLE", "drought": "Extreme Drought", "value": 0.0518},
      {"model": "HIND ENSEMBLE", "drought": "Extreme Drought", "value": 0.0531},
      {"model": "HIND ENSEMBLE", "drought": "Extreme Drought", "value": 0.0551},
      {"model": "HIND ENSEMBLE", "drought": "Extreme Drought", "value": 0.0582},
      {"model": "HIND ENSEMBLE", "drought": "Extreme Drought", "value": 0.0619},
      {"model": "HIND ENSEMBLE", "drought": "Extreme Drought", "value": 0.0625},
      {"model": "HIND ENSEMBLE", "drought": "Extreme Drought", "value": 0.0681},
      {"model": "HIND ENSEMBLE", "drought": "Extreme Drought", "value": 0.0712},
      {"model": "HIND ENSEMBLE", "drought": "Extreme Drought", "value": 0.0721},
      {"model": "HIND ENSEMBLE", "drought": "Extreme Drought", "value": 0.0741}
    ]
  },
  "encoding": {
    "y": {
      "field": "model",
      "type": "nominal",
      "scale": {
        "domain": ["CCLM4 CM5", "RCA4 MK3-6-0", "RACMO22T EC-EARTH", "HIRHAM5 EC-EARTH", "CCLM4 EC-EARTH", "CCLM4 HadGEM2", "RACMO22T HadGEM2", "CCLM4 ESM-LR", "HIRHAM5 NorESM1-M", "HIST ENSEMBLE", "HIND ENSEMBLE"],
        "paddingInner": 0,
        "paddingOuter": 0.5
      },
      "axis": {
        "title": null,
        "bandPosition": 0.5,
        "grid": true,
        "gridColor": "#D2D2D2",
        "gridWidth": 1,
        "ticks": false,
        "domainColor": "#9A9A9A",
        "labelFontSize": 19,
        "labelLimit": 0,
        "labelColor": "#2B2B2B",
        "labelPadding": 6
      }
    },
    "yOffset": {
      "field": "drought",
      "type": "nominal",
      "scale": {
        "domain": ["Moderate Drought", "Severe Drought", "Extreme Drought"],
        "paddingInner": 0.15,
        "paddingOuter": 0.89
      }
    },
    "color": {
      "field": "drought",
      "type": "nominal",
      "scale": {
        "domain": ["Moderate Drought", "Severe Drought", "Extreme Drought"],
        "range": ["#FF8C1A", "#FF2222", "#8B1515"]
      }
    }
  },
  "layer": [
    {
      "data": {"name": "boxes"},
      "mark": {"type": "rule", "strokeWidth": 1.5, "strokeOpacity": 0.55},
      "encoding": {
        "x": {
          "field": "lo",
          "type": "quantitative",
          "scale": {"domain": [0, 0.3], "nice": false},
          "axis": {
            "title": "Fraction area",
            "values": [0, 0.05, 0.1, 0.15, 0.2, 0.25, 0.3],
            "format": "~g",
            "grid": true,
            "gridColor": "#BEBEBE",
            "ticks": false,
            "domainColor": "#9A9A9A",
            "labelFontSize": 18,
            "labelColor": "#2B2B2B",
            "labelPadding": 9,
            "titleFontSize": 20,
            "titleFontWeight": "normal",
            "titleColor": "#2B2B2B",
            "titlePadding": 7
          }
        },
        "x2": {"field": "q1"}
      }
    },
    {
      "data": {"name": "boxes"},
      "mark": {"type": "rule", "strokeWidth": 1.5, "strokeOpacity": 0.55},
      "encoding": {
        "x": {"field": "q3", "type": "quantitative"},
        "x2": {"field": "hi"}
      }
    },
    {
      "data": {"name": "boxes"},
      "mark": {"type": "tick", "size": 6, "thickness": 1.2, "opacity": 0.6},
      "encoding": {"x": {"field": "lo", "type": "quantitative"}}
    },
    {
      "data": {"name": "boxes"},
      "mark": {"type": "tick", "size": 6, "thickness": 1.2, "opacity": 0.6},
      "encoding": {"x": {"field": "hi", "type": "quantitative"}}
    },
    {
      "data": {"name": "boxes"},
      "mark": {"type": "bar", "filled": false, "strokeWidth": 1.6, "strokeOpacity": 0.5},
      "encoding": {
        "x": {"field": "q1", "type": "quantitative"},
        "x2": {"field": "q3"}
      }
    },
    {
      "data": {"name": "boxes"},
      "mark": {"type": "tick", "size": 11, "thickness": 1.5, "opacity": 0.6},
      "encoding": {"x": {"field": "med", "type": "quantitative"}}
    },
    {
      "data": {"name": "outliers"},
      "mark": {"type": "point", "shape": "square", "size": 6, "filled": true, "opacity": 1},
      "encoding": {"x": {"field": "value", "type": "quantitative"}}
    }
  ]
}
